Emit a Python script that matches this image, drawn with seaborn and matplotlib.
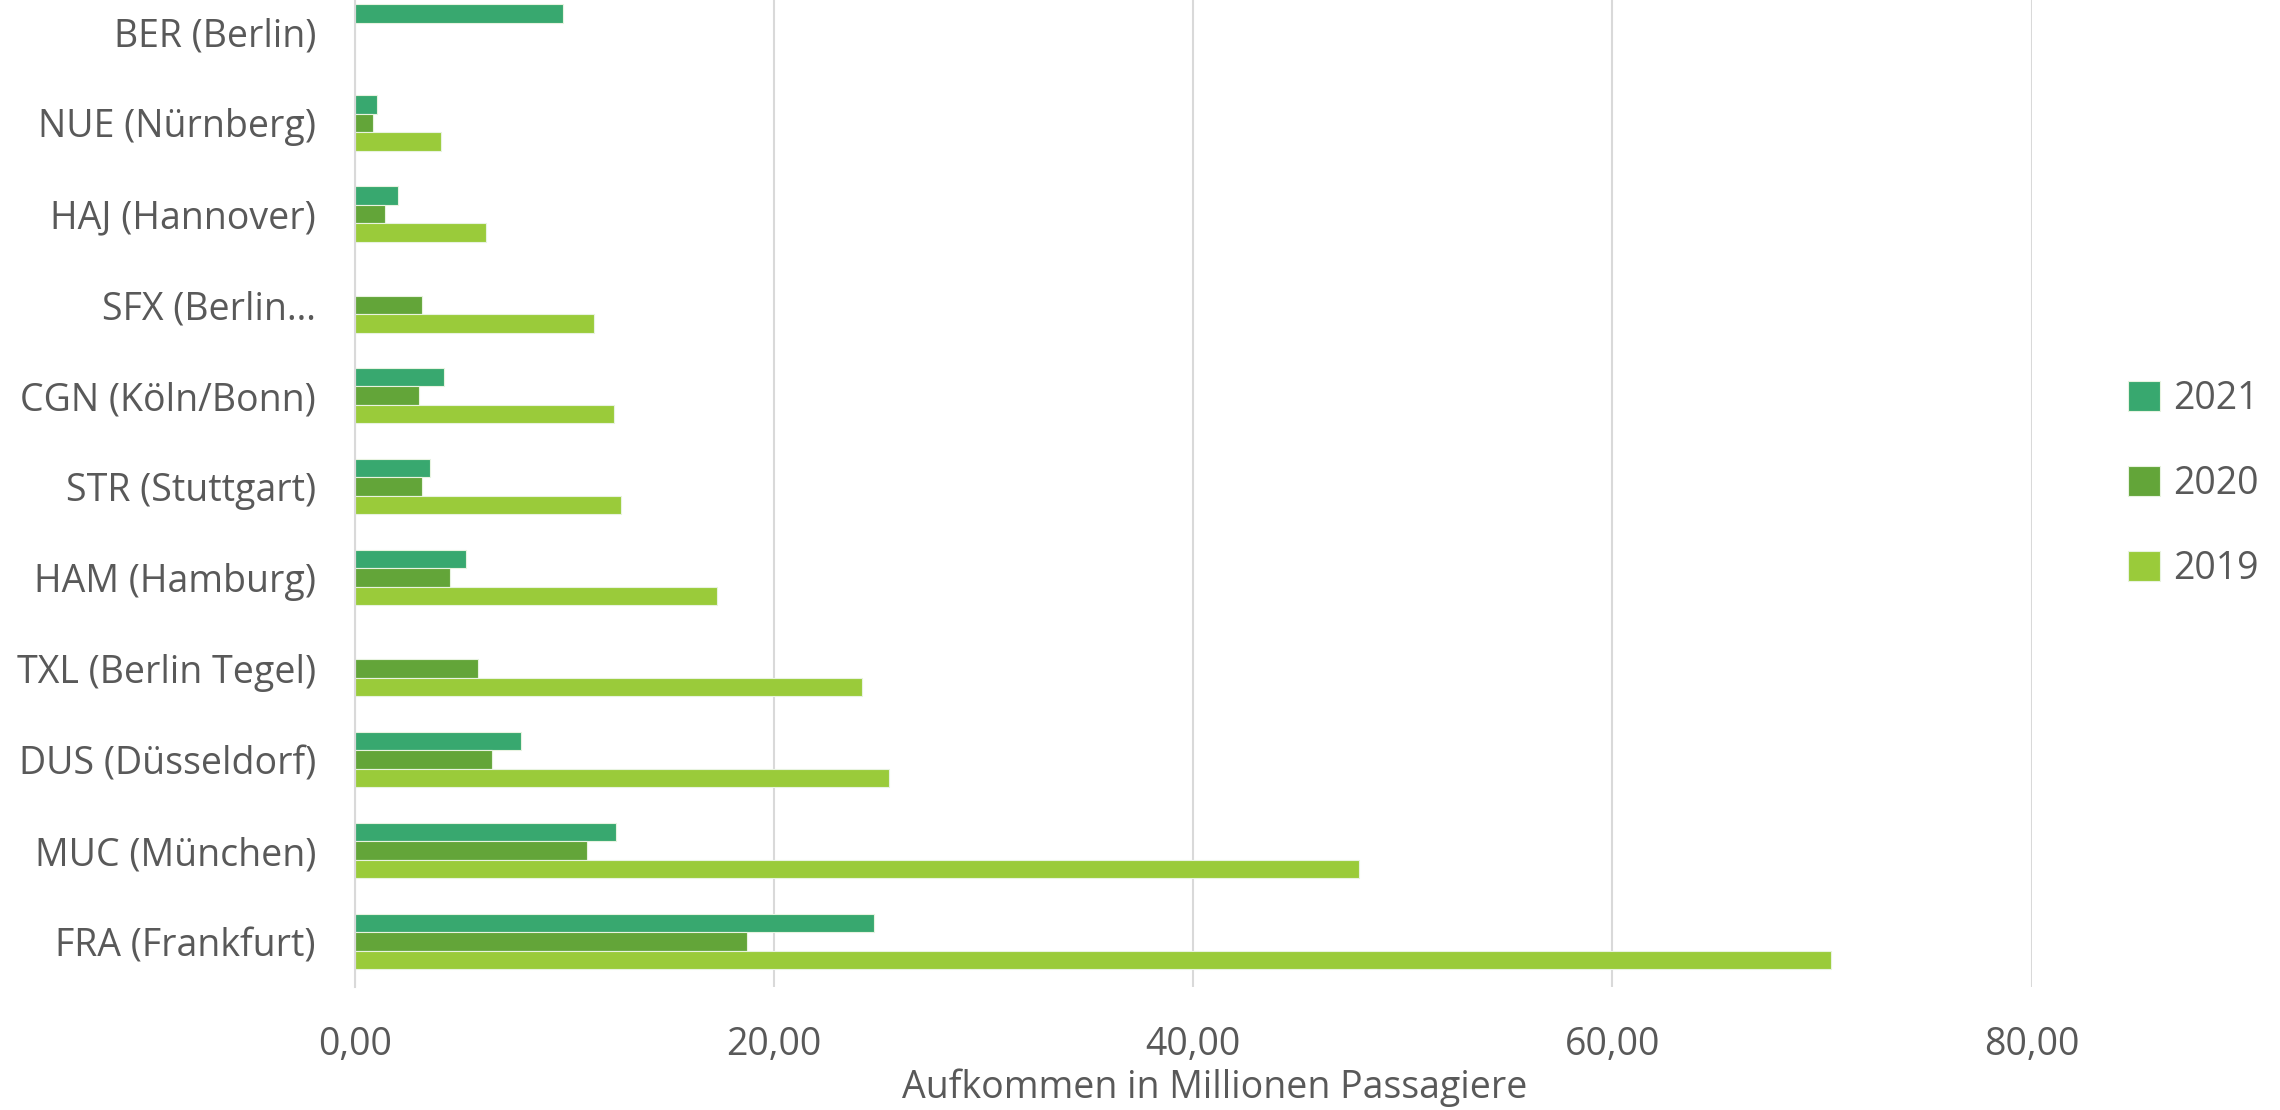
import numpy as np
import pandas as pd
import matplotlib
matplotlib.use("Agg")
import matplotlib.pyplot as plt
from matplotlib.ticker import FixedLocator, FuncFormatter
import seaborn as sns

# ---- data ----
airports = ["BER (Berlin)", "NUE (Nürnberg)", "HAJ (Hannover)", "SFX (Berlin…",
            "CGN (Köln/Bonn)", "STR (Stuttgart)", "HAM (Hamburg)",
            "TXL (Berlin Tegel)", "DUS (Düsseldorf)", "MUC (München)", "FRA (Frankfurt)"]
years = ["2021", "2020", "2019"]
values_2021 = [9.92, 1.04, 2.06, np.nan, 4.25, 3.58, 5.31, np.nan, 7.94, 12.46, 24.76]
values_2020 = [np.nan, 0.89, 1.44, 3.21, 3.07, 3.19, 4.54, 5.87, 6.55, 11.09, 18.72]
values_2019 = [np.nan, 4.09, 6.28, 11.40, 12.35, 12.70, 17.26, 24.20, 25.49, 47.90, 70.45]
x_ticks = [0, 20, 40, 60, 80]
x_label = "Aufkommen in Millionen Passagiere"
colors = ["#38A86F", "#63A539", "#9ACB3A"]

rows = []
for yr, vals in zip(years, [values_2021, values_2020, values_2019]):
    for a, v in zip(airports, vals):
        rows.append({"Flughafen": a, "Jahr": yr, "Wert": v})
df = pd.DataFrame(rows)

sns.set_theme(style="white")
plt.rcParams["font.family"] = ["Open Sans", "DejaVu Sans"]
text_color = "#595959"
fs = 27

fig = plt.figure(figsize=(22.8, 11.1), dpi=100)
ax = fig.add_axes([354.8 / 2280, 1 - 987 / 1110, (2031.6 - 354.8) / 2280, (987 + 13.6) / 1110])

sns.barplot(data=df, y="Flughafen", x="Wert", hue="Jahr", hue_order=years,
            order=airports, palette=colors, orient="h", width=0.61,
            saturation=1, errorbar=None, ax=ax,
            edgecolor="#E8F3E0", linewidth=0.8)

ax.set_xlim(0, 80)
ax.set_ylim(len(airports) - 0.5, -0.5)
ax.xaxis.set_major_locator(FixedLocator(x_ticks))
ax.xaxis.set_major_formatter(FuncFormatter(lambda v, p: f"{v:.2f}".replace(".", ",")))
ax.grid(axis="x", color="#D9D9D9", linewidth=1.5)
ax.set_axisbelow(True)
for s in ["top", "right", "bottom"]:
    ax.spines[s].set_visible(False)
ax.spines["left"].set_color("#D9D9D9")
ax.spines["left"].set_linewidth(1.5)

ax.tick_params(axis="y", length=0, pad=28, labelsize=fs, labelcolor=text_color)
ax.tick_params(axis="x", length=0, pad=28, labelsize=fs, labelcolor=text_color)
ax.set_ylabel("")
ax.set_xlabel(x_label, fontsize=fs, color=text_color)
ax.xaxis.set_label_coords(0.5126, -0.081)
ax.xaxis.label.set_va("top")

handles, labels = ax.get_legend_handles_labels()
ax.legend(handles, labels, loc="center left", bbox_to_anchor=(2128 / 2280, 1 - 484 / 1110),
          bbox_transform=fig.transFigure, frameon=False, fontsize=fs,
          labelcolor=text_color, handlelength=0.85, handleheight=0.85,
          handletextpad=0.35, labelspacing=1.25, borderpad=0, borderaxespad=0)

fig.savefig("out.png", dpi=100, facecolor="white")
